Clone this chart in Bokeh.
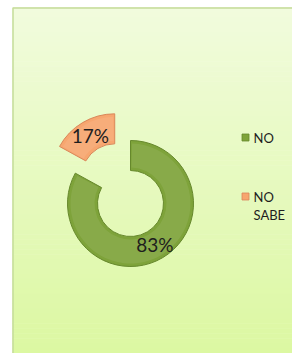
import math
from bokeh.plotting import figure
from bokeh.models import Range1d, ColumnDataSource
from bokeh.core.properties import value
from bokeh.embed import file_html
from bokeh.resources import INLINE

# ---- data ----
categories = ["NO", "NO SABE"]
legend_lines = [["NO"], ["NO", "SABE"]]
values = [83, 17]
labels = ["83%", "17%"]
colors = ["#7ea33a", "#f7a66f"]
edge_colors = ["#66882c", "#d9875a"]
explode = [0, 31]

W, H = 292, 353
p = figure(width=W, height=H, output_backend="svg", toolbar_location=None,
           x_range=Range1d(0, W), y_range=Range1d(0, H), min_border=0)
p.axis.visible = False
p.grid.visible = False
p.outline_line_color = None
p.background_fill_color = "white"
p.border_fill_color = "white"

# ---- background panel with vertical gradient ----
bx0, bx1, by0, by1 = 12, W, 0, 346
n = 70
top = (0xf1, 0xfb, 0xdd)
bot = (0xdc, 0xf8, 0xa2)
qs = dict(left=[], right=[], bottom=[], top=[], color=[])
for i in range(n):
    t = i / (n - 1)
    c = tuple(int(round(top[k] + (bot[k] - top[k]) * t)) for k in range(3))
    yt = by1 - (by1 - by0) * i / n
    yb = by1 - (by1 - by0) * (i + 1) / n
    qs["left"].append(bx0); qs["right"].append(bx1)
    qs["top"].append(yt + 0.5); qs["bottom"].append(yb)
    qs["color"].append("#%02x%02x%02x" % c)
p.quad(left="left", right="right", bottom="bottom", top="top", color="color",
       source=ColumnDataSource(qs), line_color=None)
p.line(x=[bx0 + 0.5, bx0 + 0.5, bx1], y=[by0, by1 - 0.5, by1 - 0.5],
       line_color="#c5dc9a", line_width=1.5)

# ---- donut ----
cx, cy = 130, 150
r_in, r_out = 33, 63
total = sum(values)
start = 90.0
for i, v in enumerate(values):
    sweep = 360.0 * v / total
    end = start - sweep
    mid = math.radians((start + end) / 2)
    ox = cx + explode[i] * math.cos(mid)
    oy = cy + explode[i] * math.sin(mid)
    p.annular_wedge(x=[ox], y=[oy], inner_radius=r_in, outer_radius=r_out,
                    start_angle=math.radians(start), end_angle=math.radians(end),
                    direction="clock", fill_color=colors[i],
                    line_color=edge_colors[i], line_width=1)
    p.annular_wedge(x=[ox], y=[oy], inner_radius=r_in + 3, outer_radius=r_out - 3,
                    start_angle=math.radians(start - 1.5), end_angle=math.radians(end + 1.5),
                    direction="clock", fill_color="white", fill_alpha=0.08,
                    line_color=None)
    rl = (r_in + r_out) / 2
    p.text(x=[ox + rl * math.cos(mid)], y=[oy + rl * math.sin(mid)], text=[labels[i]],
           text_font=value("Lato"), text_font_size="19px", text_color="#1e1e1e",
           text_align="center", text_baseline="middle")
    start = end

# ---- legend ----
lx, ly0, gap, lh = 245, 216, 59, 18
for i, lines in enumerate(legend_lines):
    yy = ly0 - gap * i
    p.rect(x=[lx], y=[yy], width=7, height=7, fill_color=colors[i],
           line_color=edge_colors[i], line_width=0.8)
    for j, ln in enumerate(lines):
        p.text(x=[lx + 8], y=[yy - lh * j], text=[ln], text_font=value("Lato"),
               text_font_size="13px", text_color="#1e1e1e",
               text_align="left", text_baseline="middle")

open("out.html", "w").write(file_html(p, INLINE))
